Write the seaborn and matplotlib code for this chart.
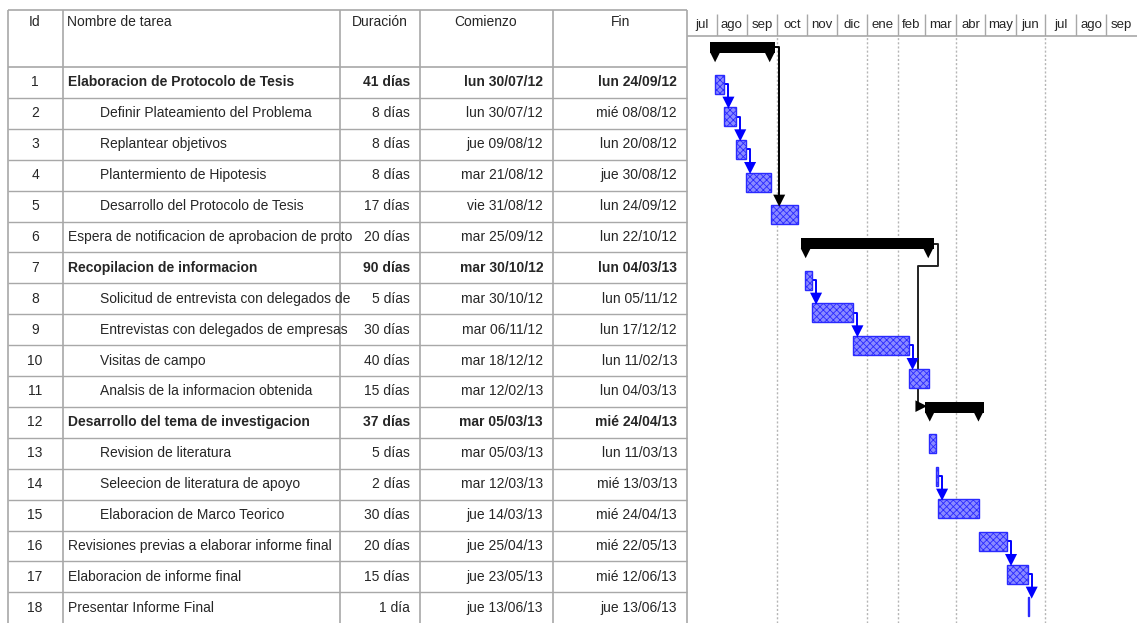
import matplotlib
matplotlib.use("Agg")
import matplotlib.pyplot as plt
import matplotlib.dates as mdates
import numpy as np
import pandas as pd
import seaborn as sns

# ---------------- data ----------------
ids = list(range(1, 19))
names = [
    "Elaboracion de Protocolo de Tesis",
    "Definir Plateamiento del Problema",
    "Replantear objetivos",
    "Plantermiento de Hipotesis",
    "Desarrollo del Protocolo de Tesis",
    "Espera de notificacion de aprobacion de proto",
    "Recopilacion de informacion",
    "Solicitud de entrevista con delegados de",
    "Entrevistas con delegados de empresas",
    "Visitas de campo",
    "Analsis de la informacion obtenida",
    "Desarrollo del tema de investigacion",
    "Revision de literatura",
    "Seleecion de literatura de apoyo",
    "Elaboracion de Marco Teorico",
    "Revisiones previas a elaborar informe final",
    "Elaboracion de informe final",
    "Presentar Informe Final",
]
durations = ["41 días", "8 días", "8 días", "8 días", "17 días", "20 días",
             "90 días", "5 días", "30 días", "40 días", "15 días", "37 días",
             "5 días", "2 días", "30 días", "20 días", "15 días", "1 día"]
starts = ["lun 30/07/12", "lun 30/07/12", "jue 09/08/12", "mar 21/08/12",
          "vie 31/08/12", "mar 25/09/12", "mar 30/10/12", "mar 30/10/12",
          "mar 06/11/12", "mar 18/12/12", "mar 12/02/13", "mar 05/03/13",
          "mar 05/03/13", "mar 12/03/13", "jue 14/03/13", "jue 25/04/13",
          "jue 23/05/13", "jue 13/06/13"]
finishes = ["lun 24/09/12", "mié 08/08/12", "lun 20/08/12", "jue 30/08/12",
            "lun 24/09/12", "lun 22/10/12", "lun 04/03/13", "lun 05/11/12",
            "lun 17/12/12", "lun 11/02/13", "lun 04/03/13", "mié 24/04/13",
            "lun 11/03/13", "mié 13/03/13", "mié 24/04/13", "mié 22/05/13",
            "mié 12/06/13", "jue 13/06/13"]
summary_ids = [1, 7, 12]
indented_ids = [2, 3, 4, 5, 8, 9, 10, 11, 13, 14, 15]
month_labels = ["jul", "ago", "sep", "oct", "nov", "dic", "ene", "feb",
                "mar", "abr", "may", "jun", "jul", "ago", "sep"]
blue_links = [(2, 3), (3, 4), (4, 5), (8, 9), (9, 10), (10, 11),
              (14, 15), (16, 17), (17, 18)]
summary_to_task_links = [(1, 6)]
summary_to_summary_links = [(7, 12)]
gridline_dates = ["2012-10-01", "2013-01-01", "2013-02-01", "2013-04-01", "2013-07-01"]
timeline_start = "2012-07-03"
timeline_end = "2013-10-02"

# ---------------- style ----------------
sns.set_theme(style="white")
plt.rcParams["font.family"] = ["Liberation Sans Narrow", "Liberation Sans", "DejaVu Sans"]
plt.rcParams["hatch.linewidth"] = 0.6

W, H = 1137, 623
fig = plt.figure(figsize=(W / 100, H / 100), dpi=100)
fig.patch.set_facecolor("white")


def px_axes(x0, y0, x1, y1):
    return fig.add_axes([x0 / W, 1 - y1 / H, (x1 - x0) / W, (y1 - y0) / H])


# ---------------- table ----------------
axt = px_axes(0, 0, W, H)
axt.set_xlim(0, W)
axt.set_ylim(H, 0)
axt.axis("off")

line_col = "#a8a8a8"
tbl_top, hdr_bot, row_h = 10, 67, 30.9
col_edges = [8, 63, 340, 420, 553, 687]
for x in col_edges:
    axt.vlines(x, tbl_top, H, color=line_col, lw=1.2)
axt.hlines([tbl_top, hdr_bot], col_edges[0], col_edges[-1], color=line_col, lw=1.2)
for k in range(1, len(ids)):
    axt.hlines(hdr_bot + row_h * k, col_edges[0], col_edges[-1], color=line_col, lw=1.0)

fs = 10
hy = 22
axt.text(35, hy, "Id", ha="center", va="center", fontsize=fs)
axt.text(67, hy, "Nombre de tarea", ha="left", va="center", fontsize=fs)
axt.text(380, hy, "Duración", ha="center", va="center", fontsize=fs)
axt.text(486, hy, "Comienzo", ha="center", va="center", fontsize=fs)
axt.text(621, hy, "Fin", ha="center", va="center", fontsize=fs)

for i, (tid, nm, du, st, fi) in enumerate(zip(ids, names, durations, starts, finishes)):
    yc = hdr_bot + row_h * (i + 0.5)
    fw = "bold" if tid in summary_ids else "normal"
    axt.text(35, yc, str(tid), ha="center", va="center", fontsize=fs)
    axt.text(100 if tid in indented_ids else 68, yc, nm, ha="left", va="center",
             fontsize=fs, fontweight=fw)
    axt.text(410, yc, du, ha="right", va="center", fontsize=fs, fontweight=fw)
    axt.text(543, yc, st, ha="right", va="center", fontsize=fs, fontweight=fw)
    axt.text(677, yc, fi, ha="right", va="center", fontsize=fs, fontweight=fw)

# ---------------- gantt ----------------
gx0, gx1, gy0, gy1 = 688, W, 35, H
axg = px_axes(gx0, gy0, gx1, gy1)
x_lo = mdates.date2num(pd.Timestamp(timeline_start))
x_hi = mdates.date2num(pd.Timestamp(timeline_end))
axg.set_xlim(x_lo, x_hi)
axg.set_ylim(len(ids) + 0.5, 0.5)
axg.axis("off")
px_day = (gx1 - gx0) / (x_hi - x_lo)
px_row = (gy1 - gy0) / len(ids)


def dx(p):
    return p / px_day


def dy(p):
    return p / px_row


def parse(s):
    return mdates.date2num(pd.to_datetime(s.split()[1], format="%d/%m/%y"))


df = pd.DataFrame({
    "id": ids,
    "start": [parse(s) for s in starts],
    "end": [parse(s) + 1 for s in finishes],
})
df["summary"] = df["id"].isin(summary_ids)
rec = df.set_index("id")

for d in gridline_dates:
    axg.axvline(mdates.date2num(pd.Timestamp(d)), color="#b5b5b5", lw=1.0,
                ls=(0, (1.5, 1.5)), zorder=0)

tasks = df[~df["summary"]]
axg.barh(tasks["id"], tasks["end"] - tasks["start"], left=tasks["start"],
         height=dy(19), facecolor="#8a8aff", edgecolor="#2a2aff", hatch="xxxxx",
         lw=1.0, zorder=3)

sums = df[df["summary"]]
pad = dx(4.5)
axg.barh(sums["id"] - dy(3.5), sums["end"] - sums["start"] + 2 * pad,
         left=sums["start"] - pad, height=dy(11), color="black", lw=0, zorder=3)
tri = pd.DataFrame({
    "x": np.concatenate([sums["start"].values + dx(0.5), sums["end"].values - dx(1)]),
    "y": np.concatenate([sums["id"].values, sums["id"].values]) + dy(6),
})
sns.scatterplot(data=tri, x="x", y="y", marker="v", s=50, color="black",
                edgecolor="none", ax=axg, zorder=4, legend=False)

# links between tasks
heads = []
for a, b in blue_links:
    xe = rec.loc[a, "end"]
    xl = rec.loc[b, "start"] + dx(4)
    ytop = b - dy(9.5)
    axg.plot([xe, xl, xl], [a, a, ytop - dy(6)], color="#0000ff", lw=1.4, zorder=2)
    heads.append((xl, ytop - dy(4.5), "blue"))
for a, b in summary_to_task_links:
    xe = rec.loc[a, "end"] + pad
    xl = xe + dx(4)
    ytop = b - dy(9.5)
    axg.plot([xe, xl, xl], [a - dy(4), a - dy(4), ytop - dy(6)], color="black",
             lw=1.4, zorder=2)
    heads.append((xl, ytop - dy(4.5), "black"))
heads = pd.DataFrame(heads, columns=["x", "y", "c"])
sns.scatterplot(data=heads, x="x", y="y", hue="c", palette={"blue": "#0000ff", "black": "black"},
                marker="v", s=75, edgecolor="none", ax=axg, zorder=4, legend=False)

for a, b in summary_to_summary_links:
    xe = rec.loc[a, "end"] + pad
    xs = rec.loc[b, "start"] - pad
    xr = xe + dx(4)
    xl = xs - dx(7)
    yb = b - dy(4.5)
    axg.plot([xe, xr, xr, xl, xl, xs - dx(5)],
             [a - dy(3.5), a - dy(3.5), a + dy(19), a + dy(19), yb, yb],
             color="#222222", lw=1.4, zorder=2)
    arr = pd.DataFrame({"x": [xs - dx(3.5)], "y": [yb]})
    sns.scatterplot(data=arr, x="x", y="y", marker=">", s=70, color="black",
                    edgecolor="none", ax=axg, zorder=4, legend=False)

# ---------------- timescale header ----------------
axh = px_axes(gx0, 14, gx1, 36)
axh.set_xlim(x_lo, x_hi)
axh.set_ylim(0, 1)
axh.set_xticks([])
axh.set_yticks([])
for sp in ["top", "right", "left"]:
    axh.spines[sp].set_visible(False)
axh.spines["bottom"].set_color(line_col)
axh.spines["bottom"].set_linewidth(1.2)
mstarts = pd.date_range("2012-07-01", periods=len(month_labels) + 1, freq="MS")
mnum = mdates.date2num(mstarts)
axh.vlines(mnum[1:-1], 0, 1, color=line_col, lw=1.0)
for lab, m0, m1 in zip(month_labels, mnum[:-1], mnum[1:]):
    a0, a1 = max(m0, x_lo), min(m1, x_hi)
    axh.text((a0 + a1) / 2, 0.5, lab, ha="center", va="center", fontsize=9.5)

fig.savefig("out.png", dpi=100, facecolor="white")
